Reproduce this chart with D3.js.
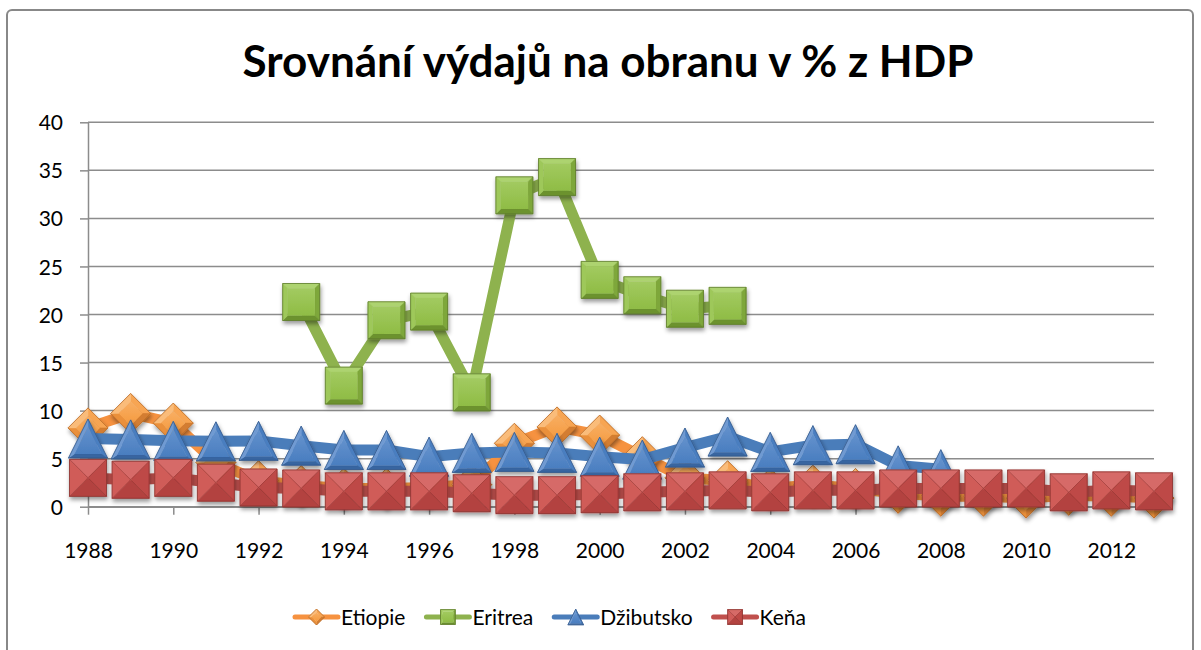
<!DOCTYPE html>
<html>
<head>
<meta charset="utf-8">
<script src="https://cdn.jsdelivr.net/npm/d3@7"></script>
<style>
body { margin: 0; background: #fff; }
text { font-family: Lato, "Open Sans", sans-serif; fill: #000; }
</style>
</head>
<body>
<script>
// data (% of GDP)
let years = [1988, 1989, 1990, 1991, 1992, 1993, 1994, 1995, 1996, 1997, 1998, 1999, 2000,
             2001, 2002, 2003, 2004, 2005, 2006, 2007, 2008, 2009, 2010, 2011, 2012, 2013]
let etiopie = [8.2, 9.7, 8.7, 4.6, 2.7, 2.2, 1.9, 1.9, 2.0, 2.3, 6.6, 8.3, 7.45,
               5.2, 3.0, 2.7, 1.9, 2.25, 1.9, 1.4, 1.1, 1.1, 0.9, 1.2, 1.1, 0.9]
let eritrea = [null, null, null, null, null, 21.3, 12.6, 19.4, 20.3, 11.9, 32.4, 34.3, 23.6,
               22.0, 20.6, 20.9, null, null, null, null, null, null, null, null, null, null]
let dzibutsko = [7.1, 7.0, 6.85, 6.8, 6.85, 6.35, 5.9, 5.9, 5.2, 5.6, 5.7, 5.6, 5.2,
                 4.9, 6.15, 7.3, 5.7, 6.4, 6.5, 4.3, 3.9, null, null, null, null, null]
let kena = [3.0, 2.8, 3.0, 2.5, 2.0, 1.9, 1.6, 1.6, 1.6, 1.4, 1.2, 1.2, 1.3,
            1.5, 1.6, 1.7, 1.5, 1.7, 1.7, 1.9, 1.9, 1.9, 1.9, 1.5, 1.7, 1.6]
let yTicks = [0, 5, 10, 15, 20, 25, 30, 35, 40]
let xTickYears = [1988, 1990, 1992, 1994, 1996, 1998, 2000, 2002, 2004, 2006, 2008, 2010, 2012]
let seriesNames = ["Etiopie", "Eritrea", "Džibutsko", "Keňa"]
let title = "Srovnání výdajů na obranu v % z HDP"

let series = [
    { name: seriesNames[0], values: etiopie, shape: "diamond", k: 0.6, contrast: 0.8,
      line: "#F69240", base: "#F59A3F", light: "#FCC68C", dark: "#C8742B", edge: "#B86A28" },
    { name: seriesNames[1], values: eritrea, shape: "square", k: 0.74, contrast: 0.8,
      line: "#8EB24E", base: "#8FBC45", light: "#B9DC80", dark: "#5F8127", edge: "#5E7B2C" },
    { name: seriesNames[2], values: dzibutsko, shape: "triangle", k: 0.7, contrast: 0.8,
      line: "#4A7DBA", base: "#4A7EC0", light: "#84AADC", dark: "#2F5B93", edge: "#34598A" },
    { name: seriesNames[3], values: kena, shape: "square", k: 0.06, contrast: 0.5,
      line: "#C0504D", base: "#C94F4C", light: "#E68A87", dark: "#973532", edge: "#8B3330" }
]

let shapes = {
    diamond: { pts: [[0, -20], [20, 0], [0, 20], [-20, 0]], c: [0, 0] },
    square: { pts: [[-18.5, -18.5], [18.5, -18.5], [18.5, 18.5], [-18.5, 18.5]], c: [0, 0] },
    triangle: { pts: [[0, -19.5], [19.5, 19.5], [-19.5, 19.5]], c: [0, 6.5] }
}

let svg = d3.select("body")
    .append("svg")
    .attr("width", 1201)
    .attr("height", 650)

let defs = svg.append("defs")
defs.append("filter")
    .attr("id", "shadow")
    .attr("x", "-50%").attr("y", "-50%").attr("width", "200%").attr("height", "200%")
    .append("feDropShadow")
    .attr("dx", 1).attr("dy", 3).attr("stdDeviation", 2)
    .attr("flood-color", "#000").attr("flood-opacity", 0.4)

series.forEach((s, i) => {
    let gr = defs.append("linearGradient")
        .attr("id", "face" + i)
        .attr("x1", 0).attr("y1", 0).attr("x2", 0).attr("y2", 1)
    gr.append("stop").attr("offset", "0%").attr("stop-color", d3.interpolateRgb(s.base, s.light)(0.45))
    gr.append("stop").attr("offset", "100%").attr("stop-color", s.base)
})

// chart frame
svg.append("rect")
    .attr("x", 7).attr("y", 10)
    .attr("width", 1186).attr("height", 700)
    .attr("rx", 5)
    .style("fill", "none")
    .style("stroke", "#888")
    .style("stroke-width", 2)

svg.append("text")
    .attr("x", 608)
    .attr("y", 77)
    .attr("text-anchor", "middle")
    .style("font-size", "44px")
    .style("font-weight", "bold")
    .text(title)

let x = d3.scalePoint().domain(years).range([88, 1154])
let y = d3.scaleLinear().domain([0, 40]).range([506.7, 122.3])

// gridlines
svg.append("g")
    .selectAll("line")
    .data(yTicks)
    .enter()
    .append("line")
    .attr("x1", 88).attr("x2", 1154)
    .attr("y1", d => y(d)).attr("y2", d => y(d))
    .style("stroke", "#8c8c8c")
    .style("stroke-width", 1.5)

let yAxis = svg.append("g")
    .attr("transform", "translate(88,0)")
    .call(d3.axisLeft(y).tickValues(yTicks).tickSize(8).tickSizeOuter(0).tickPadding(17))
yAxis.selectAll("text").style("font-size", "21px").attr("dy", "0.36em")

let xAxis = svg.append("g")
    .attr("transform", "translate(0," + y(0) + ")")
    .call(d3.axisBottom(x).tickValues(xTickYears).tickSize(8).tickSizeOuter(0).tickPadding(28))
xAxis.selectAll("text").style("font-size", "21px")

svg.selectAll(".domain, .tick line")
    .style("stroke", "#8c8c8c")
    .style("stroke-width", 1.5)

function shade(s, t) {
    return t >= 0 ? d3.interpolateRgb(s.base, s.light)(t) : d3.interpolateRgb(s.base, s.dark)(-t)
}

function drawMarker(g, s, idx, cx, cy, scale, shadow) {
    let sh = shapes[s.shape]
    let pts = sh.pts.map(p => [cx + p[0] * scale, cy + p[1] * scale])
    let c = [cx + sh.c[0] * scale, cy + sh.c[1] * scale]
    let inner = pts.map(p => [c[0] + (p[0] - c[0]) * s.k, c[1] + (p[1] - c[1]) * s.k])
    let m = g.append("g")
    if (shadow) m.attr("filter", "url(#shadow)")
    let lx = -0.45, ly = -0.9
    pts.forEach((p, i) => {
        let q = pts[(i + 1) % pts.length]
        let nx = q[1] - p[1], ny = -(q[0] - p[0])
        let len = Math.hypot(nx, ny)
        let t = (nx * lx + ny * ly) / len * s.contrast
        m.append("polygon")
            .attr("points", [p, q, inner[(i + 1) % pts.length], inner[i]].map(d => d.join(",")).join(" "))
            .style("fill", shade(s, t))
            .style("stroke", shade(s, t))
            .style("stroke-width", 0.5)
    })
    m.append("polygon")
        .attr("points", inner.map(d => d.join(",")).join(" "))
        .style("fill", "url(#face" + idx + ")")
    if (s.k < 0.2) {
        // faint diagonals on the pyramid-like squares
        m.selectAll(".diag")
            .data([[pts[0], pts[2]], [pts[1], pts[3]]])
            .enter()
            .append("line")
            .attr("x1", d => d[0][0]).attr("y1", d => d[0][1])
            .attr("x2", d => d[1][0]).attr("y2", d => d[1][1])
            .style("stroke", s.edge)
            .style("stroke-width", 0.8)
            .style("stroke-opacity", 0.6)
    }
    m.append("polygon")
        .attr("points", pts.map(d => d.join(",")).join(" "))
        .style("fill", "none")
        .style("stroke", s.edge)
        .style("stroke-width", 1)
        .style("stroke-opacity", 0.8)
}

let line = d3.line()
    .defined(d => d != null)
    .x((d, i) => x(years[i]))
    .y(d => y(d))

series.forEach((s, idx) => {
    let g = svg.append("g")
    g.append("path")
        .attr("d", line(s.values))
        .style("fill", "none")
        .style("stroke", s.line)
        .style("stroke-width", 11)
        .style("stroke-linejoin", "round")
        .style("stroke-linecap", "round")
    s.values.forEach((v, i) => {
        if (v == null) return
        drawMarker(g, s, idx, x(years[i]), y(v), 1, true)
    })
})

// legend
let lx = 295
let legend = svg.append("g")
series.forEach((s, idx) => {
    legend.append("line")
        .attr("x1", lx).attr("x2", lx + 43)
        .attr("y1", 617).attr("y2", 617)
        .style("stroke", s.line)
        .style("stroke-width", 5)
        .style("stroke-linecap", "round")
    drawMarker(legend, s, idx, lx + 21.5, 617, 0.4, false)
    let t = legend.append("text")
        .attr("x", lx + 46)
        .attr("y", 624.5)
        .style("font-size", "21px")
        .text(s.name)
    lx += 46 + t.node().getComputedTextLength() + 21
})
</script>
</body>
</html>
